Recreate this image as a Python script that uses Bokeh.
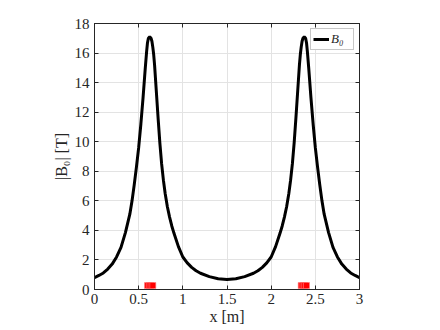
from bokeh.plotting import figure
from bokeh.models import LinearAxis, Legend, LegendItem, FixedTicker, Range1d, CustomJSTickFormatter
from bokeh.embed import file_html
from bokeh.resources import INLINE

# |B0| along x
x_m = [0.0, 0.05, 0.1, 0.15, 0.2, 0.25, 0.3, 0.35, 0.4, 0.425, 0.45, 0.475, 0.5,
       0.525, 0.55, 0.575, 0.59, 0.6, 0.61, 0.625, 0.64, 0.65, 0.66, 0.67, 0.68,
       0.7, 0.72, 0.74, 0.76, 0.78, 0.8, 0.825, 0.85, 0.875, 0.9, 0.95, 1.0,
       1.05, 1.1, 1.15, 1.2, 1.3, 1.4, 1.5,
       1.6, 1.7, 1.8, 1.85, 1.9, 1.95, 2.0, 2.05, 2.1, 2.125, 2.15, 2.175, 2.2,
       2.22, 2.24, 2.26, 2.28, 2.3, 2.32, 2.33, 2.34, 2.35, 2.36, 2.375, 2.39,
       2.4, 2.41, 2.425, 2.45, 2.475, 2.5, 2.525, 2.55, 2.575, 2.6, 2.65, 2.7,
       2.75, 2.8, 2.85, 2.9, 2.95, 3.0]
b0_T = [0.8, 0.95, 1.12, 1.38, 1.72, 2.2, 2.85, 3.85, 5.1, 6.0, 7.1, 8.3, 9.6,
        11.2, 13.0, 15.0, 16.1, 16.7, 17.0, 17.1, 17.0, 16.8, 16.4, 15.9, 15.2,
        13.4, 11.6, 9.9, 8.5, 7.4, 6.5, 5.6, 4.9, 4.3, 3.8, 2.9, 2.2,
        1.8, 1.5, 1.27, 1.1, 0.87, 0.73, 0.68,
        0.73, 0.87, 1.1, 1.27, 1.5, 1.8, 2.2, 2.9, 3.8, 4.3, 4.9, 5.6, 6.5,
        7.4, 8.5, 9.9, 11.6, 13.4, 15.2, 15.9, 16.4, 16.8, 17.0, 17.1, 17.0,
        16.7, 16.1, 15.0, 13.0, 11.2, 9.6, 8.3, 7.1, 6.0, 5.1, 3.85, 2.85,
        2.2, 1.72, 1.38, 1.12, 0.95, 0.8]

# coil markers (red)
coil_x = [0.6, 0.62, 0.64, 0.66, 2.34, 2.36, 2.38, 2.40]
coil_y = [0.27, 0.27, 0.27, 0.27, 0.27, 0.27, 0.27, 0.27]

x_ticks = [0, 0.5, 1, 1.5, 2, 2.5, 3]
x_tick_labels = ["0", "0.5", "1", "1.5", "2", "2.5", "3"]
y_ticks = [0, 2, 4, 6, 8, 10, 12, 14, 16, 18]

FONT = "Liberation Serif"
AX = "#262626"

p = figure(width=432, height=327, x_range=Range1d(0, 3), y_range=Range1d(0, 18),
           output_backend="svg", toolbar_location=None,
           min_border_left=94, min_border_right=73, min_border_top=23, min_border_bottom=38)
p.background_fill_color = "white"
p.outline_line_color = AX
p.outline_line_width = 1

r = p.line(x_m, b0_T, line_color="black", line_width=3)
p.scatter(coil_x, coil_y, marker="square", size=6, fill_color="red",
          line_color="#ff8080", line_width=0.6)

p.xaxis.ticker = FixedTicker(ticks=x_ticks)
p.xaxis.major_label_overrides = {t: l for t, l in zip(x_ticks, x_tick_labels)}
p.yaxis.ticker = FixedTicker(ticks=y_ticks)

for ax in [p.xaxis[0], p.yaxis[0]]:
    ax.major_tick_in = 4
    ax.major_tick_out = 0
    ax.minor_tick_line_color = None
    ax.axis_line_color = AX
    ax.major_tick_line_color = AX
    ax.major_label_text_font = FONT
    ax.major_label_text_font_size = "15px"
    ax.major_label_text_font_style = "normal"
    ax.major_label_text_color = AX
    ax.axis_label_text_font = FONT
    ax.axis_label_text_font_size = "16px"
    ax.axis_label_text_font_style = "normal"
    ax.axis_label_text_color = AX

p.xaxis.axis_label = "x [m]"
p.xaxis.major_label_standoff = 4
p.xaxis.axis_label_standoff = 1
p.yaxis.axis_label = "|B₀| [T]"
p.yaxis.major_label_standoff = 5
p.yaxis.axis_label_standoff = 2

blank = CustomJSTickFormatter(code="return '';")
for loc, tk in (("right", y_ticks), ("above", x_ticks)):
    a = LinearAxis(ticker=FixedTicker(ticks=tk), major_tick_in=4, major_tick_out=0,
                   minor_tick_line_color=None, axis_line_color=AX,
                   major_tick_line_color=AX, formatter=blank,
                   major_label_text_font_size="10px", major_label_standoff=0)
    p.add_layout(a, loc)

p.grid.grid_line_color = "#e3e3e3"
p.grid.grid_line_width = 1
p.xgrid.ticker = FixedTicker(ticks=x_ticks)
p.ygrid.ticker = FixedTicker(ticks=y_ticks)

legend = Legend(items=[LegendItem(label="B₀", renderers=[r])], location="top_right")
legend.label_text_font = FONT
legend.label_text_font_style = "italic"
legend.label_text_font_size = "13px"
legend.label_text_color = AX
legend.border_line_color = "#909090"
legend.border_line_width = 1
legend.padding = 2
legend.margin = 5
legend.spacing = 0
legend.glyph_width = 16
legend.glyph_height = 12
legend.label_height = 12
legend.label_standoff = 2
p.add_layout(legend)

open("out.html", "w").write(file_html(p, INLINE))
